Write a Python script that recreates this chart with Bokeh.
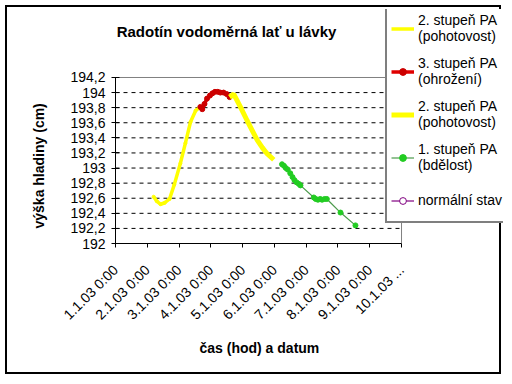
from math import pi, nan
from bokeh.plotting import figure
from bokeh.models import FixedTicker, Legend, LegendItem, Range1d, Label, Title
from bokeh.embed import file_html
from bokeh.resources import INLINE

# ---- data (x = days since 1.1.03 0:00) ----
x_tick_pos = [0, 1, 2, 3, 4, 5, 6, 7, 8, 9]
x_tick_labels = ["1.1.03 0:00", "2.1.03 0:00", "3.1.03 0:00", "4.1.03 0:00", "5.1.03 0:00",
                 "6.1.03 0:00", "7.1.03 0:00", "8.1.03 0:00", "9.1.03 0:00", "10.1.03 ..."]
y_ticks = [192.0, 192.2, 192.4, 192.6, 192.8, 193.0, 193.2, 193.4, 193.6, 193.8, 194.0, 194.2]
y_tick_labels = ["192", "192,2", "192,4", "192,6", "192,8", "193", "193,2", "193,4",
                 "193,6", "193,8", "194", "194,2"]

# 2. stupeň PA (pohotovost) - rising part
s1_x = [1.2, 1.3, 1.42, 1.55, 1.7, 1.85, 2.04, 2.2, 2.36, 2.52, 2.67]
s1_y = [192.62, 192.56, 192.52, 192.54, 192.59, 192.78, 193.06, 193.33, 193.61, 193.76, 193.81]
# 3. stupeň PA (ohrožení)
s2_x = [2.67, 2.73, 2.8, 2.88, 2.97, 3.05, 3.13, 3.22, 3.3, 3.4, 3.5, 3.59]
s2_y = [193.81, 193.78, 193.85, 193.92, 193.96, 193.99, 194.01, 194.01, 194.0, 194.0, 193.98, 193.94]
# 2. stupeň PA (pohotovost) - falling part
s3_x = [3.59, 3.72, 3.93, 4.14, 4.3, 4.46, 4.62, 4.77, 4.98]
s3_y = [193.94, 193.98, 193.81, 193.63, 193.5, 193.37, 193.27, 193.19, 193.11]
# 1. stupeň PA (bdělost)
s4_x = [5.24, 5.3, 5.36, 5.42, 5.5, 5.57, 5.63, 5.7, 5.77, 5.82, 6.24, 6.3, 6.37, 6.44, 6.5, 6.58, 6.65, 7.08, 7.55]
s4_y = [193.05, 193.03, 193.0, 192.98, 192.93, 192.88, 192.84, 192.81, 192.79, 192.77, 192.61, 192.59, 192.58, 192.59, 192.58, 192.59, 192.59, 192.41, 192.24]
# normální stav (no values in the shown period)
s5_x = [0.0]
s5_y = [nan]

FONT = "Liberation Sans"
X_MIN, X_MAX = x_tick_pos[0], x_tick_pos[-1]
Y_MIN, Y_MAX = y_ticks[0], y_ticks[-1]

# the frame is widened to the right and upwards so that the legend and title
# (which overlap the plot area edge in the original) are not clipped;
# the visible plot area is bounded by the axes' bounds
p = figure(width=496, height=369, output_backend="svg", toolbar_location=None, title=None,
           x_range=Range1d(X_MIN, 12.209), y_range=Range1d(Y_MIN, 195.101),
           min_border_left=108, min_border_right=0, min_border_top=2, min_border_bottom=133,
           margin=(5, 0, 0, 5))
p.styles = {"border": "2px solid black"}
p.background_fill_color = "white"
p.border_fill_color = "white"
p.outline_line_color = None

# axes
p.xaxis.bounds = (X_MIN, X_MAX)
p.xaxis.ticker = FixedTicker(ticks=x_tick_pos)
p.xaxis.major_label_overrides = {t: l for t, l in zip(x_tick_pos, x_tick_labels)}
p.xaxis.major_label_orientation = pi / 4
p.xaxis.minor_tick_line_color = None
p.xaxis.major_tick_in = 0
p.xaxis.major_tick_out = 4
p.xaxis.major_label_standoff = 20

p.yaxis.bounds = (Y_MIN, Y_MAX)
p.yaxis.ticker = FixedTicker(ticks=y_ticks)
p.yaxis.major_label_overrides = {t: l for t, l in zip(y_ticks, y_tick_labels)}
p.yaxis.minor_tick_line_color = None
p.yaxis.major_tick_in = 4
p.yaxis.major_tick_out = 4
p.yaxis.major_label_standoff = 6

for ax in (p.xaxis[0], p.yaxis[0]):
    ax.axis_line_color = "black"
    ax.major_tick_line_color = "black"
    ax.major_label_text_font = FONT
    ax.major_label_text_font_size = "14px"
    ax.major_label_text_color = "black"

p.xgrid.grid_line_color = None
p.ygrid.grid_line_color = None

# axis titles (positioned along the visible plot area)
p.add_layout(Title(text="čas (hod)  a  datum", align="left", offset=84, standoff=12,
                   text_font=FONT, text_font_size="14px", text_font_style="bold",
                   text_color="black"), "below")
p.add_layout(Title(text="výška hladiny (cm)", align="left", offset=15, standoff=42,
                   text_font=FONT, text_font_size="14px", text_font_style="bold",
                   text_color="black"), "left")

# plot-area gridlines and edges, in data coordinates
grid_y = y_ticks[1:-1]
p.segment(x0=[X_MIN] * len(grid_y), x1=[X_MAX] * len(grid_y), y0=grid_y, y1=grid_y,
          line_color="black", line_width=1, line_dash="4 4")
p.segment(x0=[X_MIN, X_MAX], x1=[X_MAX, X_MAX], y0=[Y_MAX, Y_MIN], y1=[Y_MAX, Y_MAX],
          line_color="#808080", line_width=1)

# series
l1 = p.line(s1_x, s1_y, line_color="#FFFF00", line_width=3.5)
m1 = p.scatter(s1_x, s1_y, size=3, color="#FFFF00")
l2 = p.line(s2_x, s2_y, line_color="#E00000", line_width=3.5)
m2 = p.scatter(s2_x, s2_y, size=5, color="#CC0000")
l3 = p.line(s3_x, s3_y, line_color="#FFFF00", line_width=5)
l4 = p.line(s4_x, s4_y, line_color="#4C9A4C", line_width=1.2)
m4 = p.scatter(s4_x, s4_y, size=5, color="#22CC22")
l5 = p.line(s5_x, s5_y, line_color="#800080", line_width=1.2)
m5 = p.scatter(s5_x, s5_y, size=5, fill_color="white", line_color="#800080")

legend = Legend(items=[
    LegendItem(label="2. stupeň PA\n(pohotovost)", renderers=[l1]),
    LegendItem(label="3. stupeň PA\n(ohrožení)", renderers=[l2, m2]),
    LegendItem(label="2. stupeň PA\n(pohotovost)", renderers=[l3]),
    LegendItem(label="1. stupeň PA\n(bdělost)", renderers=[l4, m4]),
    LegendItem(label="normální stav", renderers=[l5, m5]),
], location=(270, 20))
legend.label_text_font = FONT
legend.label_text_font_size = "14px"
legend.label_text_color = "black"
legend.label_standoff = 4
legend.glyph_width = 23
legend.glyph_height = 17
legend.label_height = 34
legend.spacing = 9
legend.padding = 4
legend.margin = 0
legend.border_line_color = "black"
legend.border_line_width = 2
legend.background_fill_color = "white"
legend.background_fill_alpha = 1
p.add_layout(legend)

# chart title
p.add_layout(Label(x=111, y=212, x_units="screen", y_units="screen",
                   text="Radotín vodoměrná lať u lávky", text_align="center",
                   text_baseline="middle", text_font=FONT, text_font_size="15px",
                   text_font_style="bold", text_color="black"))

open("out.html", "w").write(file_html(p, INLINE))
